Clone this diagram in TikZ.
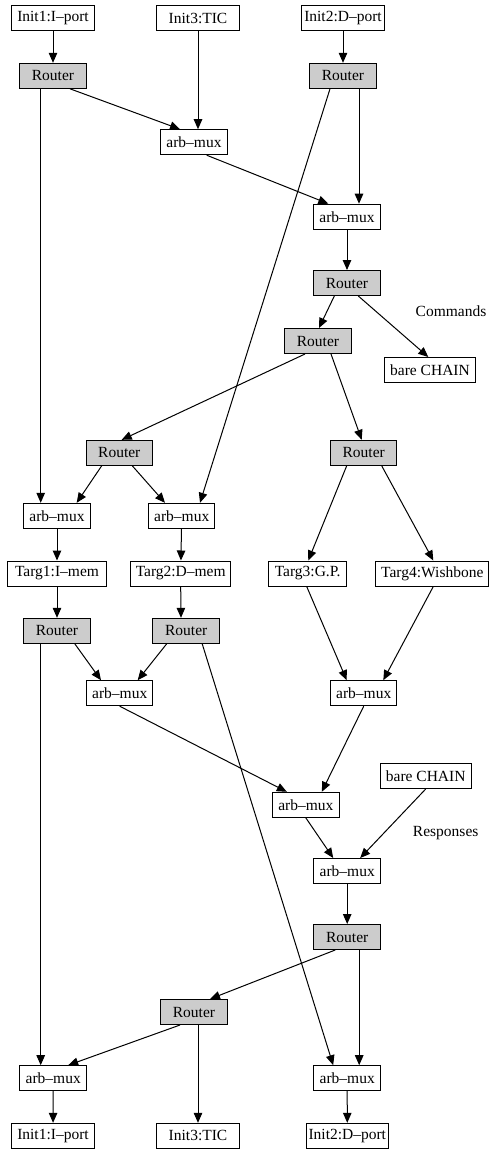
\documentclass[tikz,border=0pt]{standalone}
\usepackage{fontspec}
\setmainfont{Liberation Serif}
\usetikzlibrary{arrows.meta}

\tikzset{
  box/.style={draw, line width=1pt, minimum width=66.5pt, minimum height=25pt,
    inner sep=0pt, font=\fontsize{15.5}{18}\selectfont},
  router/.style={box, fill=black!20},
  tag/.style={font=\fontsize{15.5}{18}\selectfont},
  link/.style={line width=1pt, -{Triangle[length=10pt,width=8.5pt]}}
}

\begin{document}
\begin{tikzpicture}[x=1pt,y=-1pt]
\useasboundingbox (0,0) rectangle (489,1149);

\node[box, minimum width=82.6pt] (i1top) at (53,18.2) {Init1:I–port};
\node[box, minimum width=82.6pt] (i3top) at (198,18.2) {Init3:TIC};
\node[box, minimum width=82.6pt] (i2top) at (343,18.2) {Init2:D–port};

\node[router] (r1) at (53,75.8) {Router};
\node[router] (r2) at (343,75.8) {Router};
\node[box] (m1) at (194,142.2) {arb–mux};
\node[box] (m2) at (347,216.7) {arb–mux};
\node[router] (r3) at (347,283) {Router};
\node[router] (r4) at (318,341) {Router};
\node[tag] (cmd) at (451,311) {Commands};
\node[box, minimum width=91.4pt] (bare1) at (430,370) {bare CHAIN};
\node[router] (r5) at (119.3,452.8) {Router};
\node[router] (r6) at (363.7,452.8) {Router};

\node[box] (mL) at (57,515.8) {arb–mux};
\node[box] (mM) at (181.7,515.8) {arb–mux};
\node[box, minimum width=99.7pt] (t1) at (57,573.5) {Targ1:I–mem};
\node[box, minimum width=100pt] (t2) at (180.7,573.5) {Targ2:D–mem};
\node[box, minimum width=78pt] (t3) at (307.7,573.5) {Targ3:G.P.};
\node[box, minimum width=112.7pt] (t4) at (432.3,573.5) {Targ4:Wishbone};

\node[router] (r7) at (57,630.8) {Router};
\node[router] (r8) at (186.2,630.8) {Router};
\node[box] (m3) at (119.7,693.2) {arb–mux};
\node[box] (m4) at (363.7,693.2) {arb–mux};
\node[box, minimum width=91.4pt] (bare2) at (425.7,776) {bare CHAIN};
\node[box] (m5) at (305.8,804.8) {arb–mux};
\node[tag] (resp) at (445.7,832.7) {Responses};
\node[box] (m6) at (347.2,871) {arb–mux};
\node[router] (r9) at (347.2,937) {Router};
\node[router] (r10) at (194,1012) {Router};
\node[box] (mBL) at (53.2,1078.2) {arb–mux};
\node[box] (mBR) at (347.2,1078.2) {arb–mux};

\node[box, minimum width=82.6pt] (i1bot) at (53,1135.8) {Init1:I–port};
\node[box, minimum width=82.6pt] (i3bot) at (198,1135.8) {Init3:TIC};
\node[box, minimum width=82.6pt] (i2bot) at (347.3,1135.8) {Init2:D–port};

\draw[link] (i1top) -- (r1);
\draw[link] (i3top.south) -- ([xshift=4pt]m1.north);
\draw[link] (i2top) -- (r2);
\draw[link] ([xshift=17pt]r1.south) -- ([xshift=-14pt]m1.north);
\draw[link] ([xshift=-12.3pt]r1.south) -- ([xshift=-16.3pt]mL.north);
\draw[link] ([xshift=16pt]r2.south) -- ([xshift=12pt]m2.north);
\draw[link] ([xshift=-13pt]r2.south) -- ([xshift=18.3pt]mM.north);
\draw[link] ([xshift=12.7pt]m1.south) -- ([xshift=-18.7pt]m2.north);
\draw[link] (m2) -- (r3);
\draw[link] ([xshift=-12.7pt]r3.south) -- ([xshift=1pt]r4.north);
\draw[link] ([xshift=11.3pt]r3.south) -- ([xshift=-1.7pt]bare1.north);
\draw[link] ([xshift=-13pt]r4.south) -- ([xshift=2.4pt]r5.north);
\draw[link] ([xshift=13pt]r4.south) -- ([xshift=-2pt]r6.north);
\draw[link] ([xshift=-17.6pt]r5.south) -- ([xshift=19.7pt]mL.north);
\draw[link] ([xshift=13pt]r5.south) -- ([xshift=-16.7pt]mM.north);
\draw[link] ([xshift=-17pt]r6.south) -- ([xshift=0.6pt]t3.north);
\draw[link] ([xshift=18pt]r6.south) -- ([xshift=1pt]t4.north);

\draw[link] (mL) -- (t1);
\draw[link] (mM) -- (t2);
\draw[link] (t1) -- (r7);
\draw[link] (t2.south) -- ([xshift=-5.2pt]r8.north);
\draw[link] ([xshift=17.8pt]r7.south) -- ([xshift=-18.7pt]m3.north);
\draw[link] ([xshift=-19.5pt]r8.south) -- ([xshift=18pt]m3.north);
\draw[link] ([xshift=-16.3pt]r7.south) -- ([xshift=-12.5pt]mBL.north);
\draw[link] ([xshift=16pt]r8.south) -- ([xshift=-14pt]mBR.north);
\draw[link] ([xshift=-1pt]t3.south) -- ([xshift=-17pt]m4.north);
\draw[link] ([xshift=1pt]t4.south) -- ([xshift=19.6pt]m4.north);
\draw[link] (m3.south) -- ([xshift=-19pt]m5.north);
\draw[link] (m4.south) -- ([xshift=16pt]m5.north);
\draw[link] (m5.south) -- ([xshift=-14pt]m6.north);
\draw[link] (bare2.south) -- ([xshift=13pt]m6.north);
\draw[link] (m6) -- (r9);
\draw[link] ([xshift=-12pt]r9.south) -- ([xshift=16pt]r10.north);
\draw[link] ([xshift=12pt]r9.south) -- ([xshift=12pt]mBR.north);
\draw[link] ([xshift=-14pt]r10.south) -- ([xshift=15pt]mBL.north);
\draw[link] ([xshift=4pt]r10.south) -- (i3bot.north);
\draw[link] (mBL) -- (i1bot);
\draw[link] (mBR) -- (i2bot);
\end{tikzpicture}
\end{document}
